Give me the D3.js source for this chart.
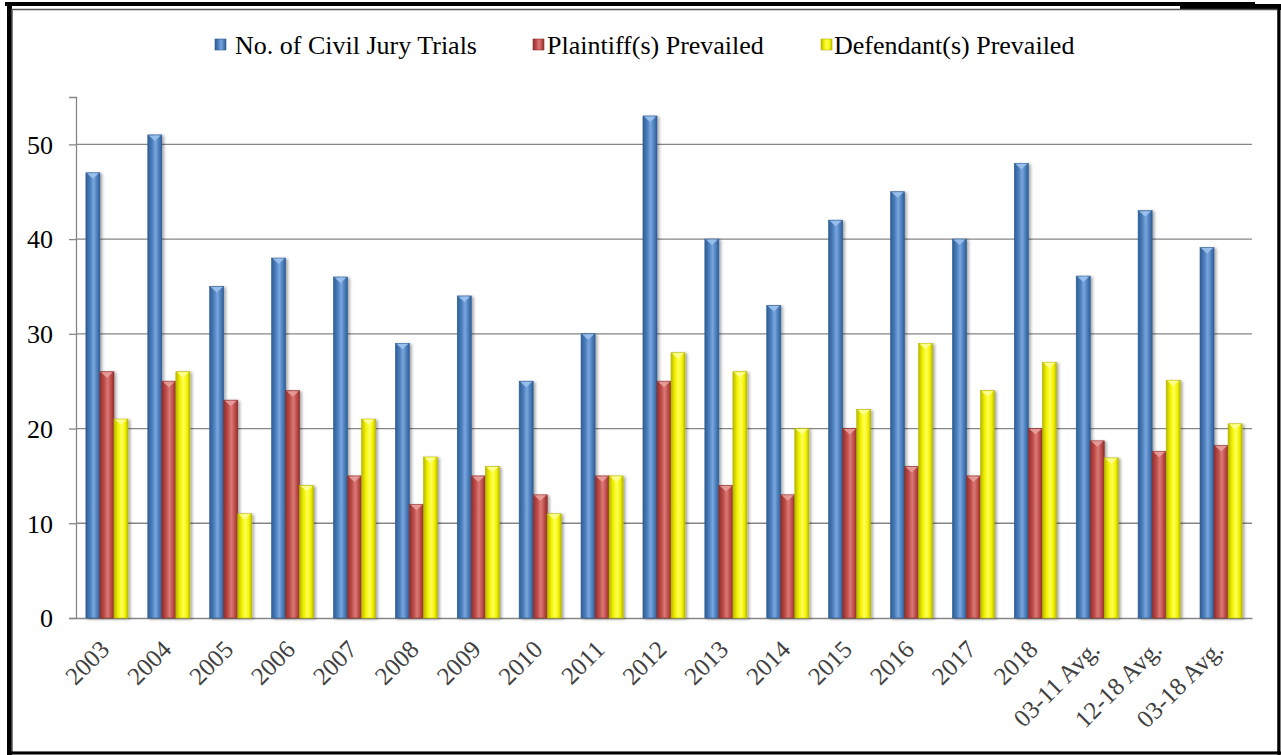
<!DOCTYPE html>
<html>
<head>
<meta charset="utf-8">
<script src="https://cdn.jsdelivr.net/npm/d3@7"></script>
<style>
  body { margin: 0; background: #fff; }
  svg text { font-family: 'Liberation Serif', 'Times New Roman', serif; }
</style>
</head>
<body>
<div id="chart"></div>
<script>
// data
var categories = ["2003", "2004", "2005", "2006", "2007", "2008", "2009", "2010", "2011",
  "2012", "2013", "2014", "2015", "2016", "2017", "2018", "03-11 Avg.", "12-18 Avg.", "03-18 Avg."];
var seriesNames = ["No. of Civil Jury Trials", "Plaintiff(s) Prevailed", "Defendant(s) Prevailed"];
var trials    = [47, 51, 35, 38, 36, 29, 34, 25, 30, 53, 40, 33, 42, 45, 40, 48, 36.1, 43, 39.1];
var plaintiff = [26, 25, 23, 24, 15, 12, 15, 13, 15, 25, 14, 13, 20, 16, 15, 20, 18.7, 17.6, 18.2];
var defendant = [21, 26, 11, 14, 21, 17, 16, 11, 15, 28, 26, 20, 22, 29, 24, 27, 16.9, 25.1, 20.5];
var yTicks = [0, 10, 20, 30, 40, 50];

var colors = [
  {base: "#4a7ebb", light: "#7aa6de", dark: "#2f5d94", cap: "#9cc2ee"},
  {base: "#be4b48", light: "#d97a77", dark: "#8e2f2d", cap: "#e8a09d"},
  {base: "#f2f200", light: "#ffff5a", dark: "#b8b800", cap: "#ffff99"}
];

var W = 1281, H = 755;
var margin = {left: 76, right: 29, top: 97, bottom: 137};
var serif = "'Liberation Serif', 'Times New Roman', serif";

var svg = d3.select("#chart").append("svg")
  .attr("width", W).attr("height", H);

var defs = svg.append("defs");
colors.forEach(function(c, i) {
  var g = defs.append("linearGradient").attr("id", "grad" + i)
    .attr("x1", "0").attr("x2", "1").attr("y1", "0").attr("y2", "0");
  g.append("stop").attr("offset", "0%").attr("stop-color", c.dark);
  g.append("stop").attr("offset", "30%").attr("stop-color", c.base);
  g.append("stop").attr("offset", "55%").attr("stop-color", c.light);
  g.append("stop").attr("offset", "80%").attr("stop-color", c.base);
  g.append("stop").attr("offset", "100%").attr("stop-color", c.dark);
});
var shadow = defs.append("filter").attr("id", "shadow")
  .attr("x", "-50%").attr("y", "-10%").attr("width", "200%").attr("height", "120%");
shadow.append("feDropShadow").attr("dx", 2).attr("dy", 1).attr("stdDeviation", 1.5)
  .attr("flood-color", "#000").attr("flood-opacity", 0.35);

// frame
svg.append("rect").attr("x", 5).attr("y", 2).attr("width", 1250).attr("height", 4).attr("fill", "#000");
svg.append("rect").attr("x", 1180).attr("y", 4).attr("width", 101).attr("height", 6).attr("fill", "#000");
svg.append("rect").attr("x", 7).attr("y", 3).attr("width", 5).attr("height", 752).attr("fill", "#000");
svg.append("rect").attr("x", 12).attr("y", 9.5).attr("width", 1266).attr("height", 743)
  .attr("fill", "none").attr("stroke", "#555").attr("stroke-width", 1.5);
svg.append("line").attr("x1", 1279).attr("x2", 1279).attr("y1", 8).attr("y2", 755)
  .attr("stroke", "#000").attr("stroke-width", 3);
svg.append("line").attr("x1", 7).attr("x2", 1281).attr("y1", 753).attr("y2", 753)
  .attr("stroke", "#000").attr("stroke-width", 3);

var x = d3.scaleBand().domain(categories)
  .range([margin.left, W - margin.right]).paddingInner(0.32).paddingOuter(0.16);
var xs = d3.scaleBand().domain([0, 1, 2]).range([0, x.bandwidth()]);
var y = d3.scaleLinear().domain([0, 55]).range([H - margin.bottom, margin.top]);

// gridlines
svg.append("g").selectAll("line").data(yTicks.slice(1)).enter().append("line")
  .attr("x1", margin.left).attr("x2", W - margin.right)
  .attr("y1", function(d) { return y(d); }).attr("y2", function(d) { return y(d); })
  .attr("stroke", "#868686").attr("stroke-width", 1.3);

// y axis
var yAxis = svg.append("g").attr("transform", "translate(" + margin.left + ",0)")
  .call(d3.axisLeft(y).tickValues(yTicks).tickSize(7).tickPadding(16));
yAxis.attr("font-family", null).attr("font-size", null);
yAxis.select(".domain").attr("stroke", "#868686").attr("stroke-width", 1.3);
yAxis.selectAll(".tick line").attr("stroke", "#868686").attr("stroke-width", 1.3);
yAxis.selectAll("text").style("font-size", "26px").style("font-family", serif)
  .attr("fill", "#000").attr("dy", "0.34em");

// x axis (tick groups already sit at the band centre)
var xAxis = svg.append("g").attr("transform", "translate(0," + y(0) + ")")
  .call(d3.axisBottom(x).tickSize(0).tickPadding(0));
xAxis.attr("font-family", null).attr("font-size", null);
xAxis.select(".domain").attr("stroke", "#868686").attr("stroke-width", 1.3);
xAxis.selectAll("text")
  .style("font-size", "25px").style("font-family", serif).attr("fill", "#404040")
  .attr("text-anchor", "end").attr("dy", "0")
  .attr("transform", "translate(4,33) rotate(-45)");

// bars
var series = [trials, plaintiff, defendant];
series.forEach(function(vals, si) {
  var g = svg.append("g").attr("class", "series" + si);
  var groups = g.selectAll("g").data(vals).enter().append("g")
    .attr("transform", function(d, i) { return "translate(" + (x(categories[i]) + xs(si)) + ",0)"; });
  groups.append("rect")
    .attr("x", 0).attr("width", xs.bandwidth())
    .attr("y", function(d) { return y(d); })
    .attr("height", function(d) { return y(0) - y(d); })
    .attr("fill", "url(#grad" + si + ")")
    .attr("stroke", colors[si].dark).attr("stroke-width", 0.6)
    .attr("filter", "url(#shadow)");
  groups.append("path")
    .attr("d", function(d) {
      var w = xs.bandwidth(), t = y(d);
      return "M1," + (t + 0.5) + "L" + (w - 1) + "," + (t + 0.5) + "L" + (w / 2) + "," + (t + 6) + "Z";
    })
    .attr("fill", colors[si].cap).attr("opacity", 0.9);
});

// legend
var legendBox = [215, 533, 821];
var legendText = [235, 547, 834];
var legend = svg.append("g");
seriesNames.forEach(function(name, i) {
  legend.append("rect").attr("x", legendBox[i]).attr("y", 39).attr("width", 11).attr("height", 11)
    .attr("fill", "url(#grad" + i + ")").attr("stroke", colors[i].dark).attr("stroke-width", 0.6);
  legend.append("text").attr("x", legendText[i]).attr("y", 54)
    .style("font-size", "26px").style("font-family", serif).attr("fill", "#000").text(name);
});
</script>
</body>
</html>
